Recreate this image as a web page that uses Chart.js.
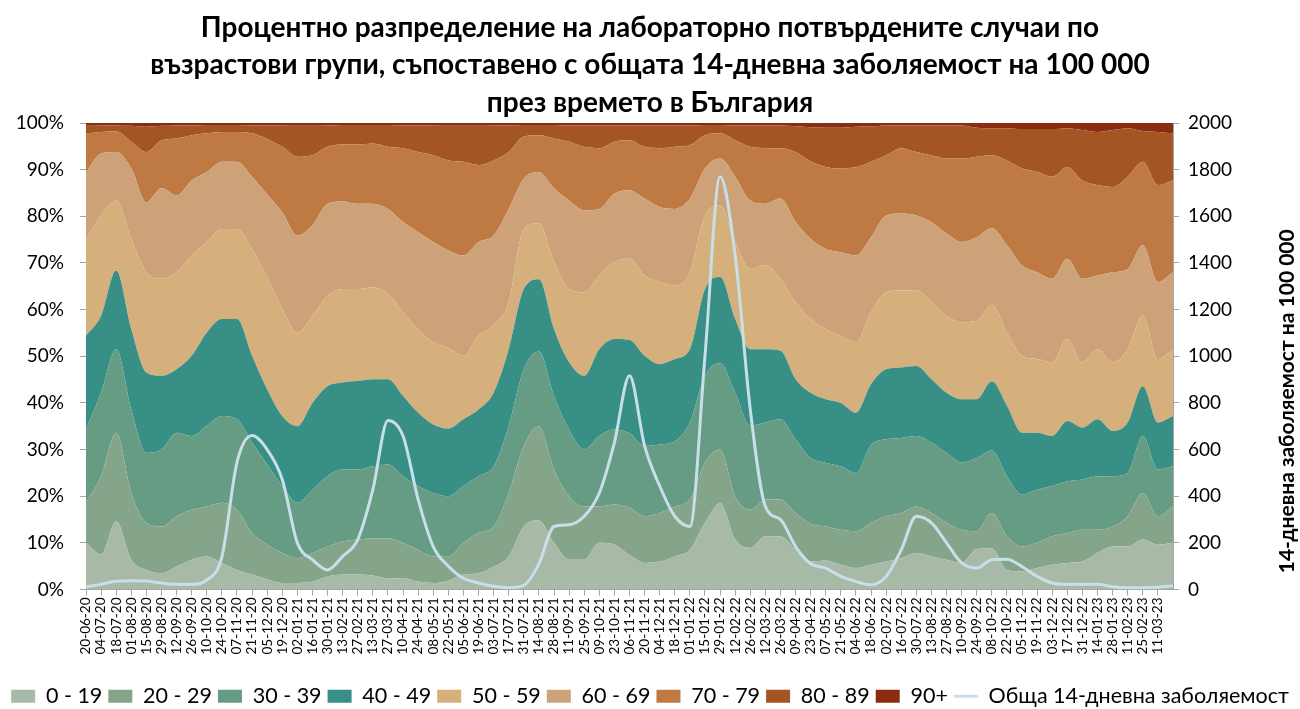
<!DOCTYPE html>
<html>
<head>
<meta charset="utf-8">
<script src="https://cdn.jsdelivr.net/npm/chart.js@4.4.1/dist/chart.umd.min.js"></script>
<style>
  html, body { margin: 0; padding: 0; background: #ffffff; }
</style>
</head>
<body>
<canvas id="chart" width="1300" height="709"></canvas>
<script>
// Upper edge of each age band (cumulative %), read every 14 days from 20-06-20
const groups = ['0 - 19', '20 - 29', '30 - 39', '40 - 49', '50 - 59', '60 - 69', '70 - 79', '80 - 89', '90+'];
const colors = ['#a9b9a7', '#85a58b', '#679c84', '#378f86', '#d5b07c', '#cea278', '#bf7a44', '#a35624', '#8a2c12'];

const edge0_19 = [10, 7.5, 14.6, 6.4, 4.2, 3.5, 4.9, 6.4, 7.1, 5.7, 4.2, 3.2, 2.2, 1.4, 1.4, 1.7, 2.8, 3.2, 3.2, 3, 2.4, 2.4, 1.7, 1.4, 1.9, 3.2, 3.5, 4.9, 7.1, 13.5, 14.8, 10, 6.4, 6.4, 10, 9.6, 7.4, 5.7, 6, 7.1, 8.5, 14.3, 18.5, 10.7, 8.9, 11.4, 11.4, 8.5, 6, 6.2, 5.3, 4.6, 5.3, 6, 6.7, 7.8, 7.1, 6.4, 5.7, 8.7, 8.8, 4.2, 3.9, 4.6, 5.3, 5.7, 6, 7.8, 9.2, 9.2, 10.7, 9.6, 10];
const edge20_29 = [18.6, 24.3, 33.6, 20.7, 14.3, 13.5, 15.7, 17.1, 17.8, 18.6, 17.1, 12.1, 9.6, 7.8, 6.7, 7.8, 9.2, 10.3, 10.7, 11, 11, 10, 8.5, 7.1, 7, 10, 12.1, 13.5, 20.7, 30.8, 35, 25.7, 20, 17.8, 17.8, 18.2, 17.5, 15.7, 16.4, 17.8, 19.3, 27.2, 30, 20, 17.1, 19.3, 19.3, 16.4, 14.1, 13.5, 12.8, 12.5, 14.3, 15.7, 16.4, 17.8, 16.4, 14.3, 12.8, 12.5, 16.4, 11.4, 9.2, 10, 11.4, 12.1, 12.8, 12.8, 13.5, 15.7, 20.7, 15.7, 17.8];
const edge30_39 = [34.3, 42.2, 51.5, 38.6, 29.3, 30, 33.6, 32.9, 35.1, 37.2, 36.5, 31.5, 26.8, 22.2, 18.6, 21.4, 24.3, 25.7, 25.7, 26.4, 26.8, 24.3, 22.2, 20.7, 20, 22.2, 24.3, 26.4, 35, 47.2, 51, 41.5, 34.3, 30, 32.9, 34.3, 33.5, 30.8, 31.1, 31.8, 35.8, 45.8, 48.5, 42.2, 35.1, 35.8, 36.5, 32.2, 28.2, 27.2, 26.4, 25, 31, 32.2, 32.5, 32.9, 31.5, 29.3, 27.2, 28.2, 29.8, 24.3, 20.4, 21.4, 22.2, 23.2, 23.6, 24.3, 24.3, 25, 32.9, 25.7, 26.4];
const edge40_49 = [54.4, 58.7, 68.4, 55.8, 46.5, 45.8, 47.2, 50.1, 55.1, 58, 58, 50.1, 42.9, 37.2, 35, 40, 43.6, 44.4, 44.7, 45.1, 45.1, 41.5, 37.9, 35.4, 34.5, 36.5, 38.6, 42.2, 51.5, 64.4, 66.5, 55.8, 48.7, 45.8, 51.5, 53.7, 53.5, 50.1, 48.3, 49.4, 51.5, 64.4, 67, 58, 51.5, 51.5, 51.2, 45.1, 42.2, 40.8, 40, 37.9, 44, 47.2, 47.6, 47.9, 45.1, 42.2, 40.8, 40.8, 44.6, 39.4, 33.6, 33.6, 32.9, 36.1, 34.7, 36.5, 34, 35.8, 43.6, 35.8, 37.2];
const edge50_59 = [75.2, 80.2, 83.4, 75.2, 68, 66.6, 68, 71.6, 74.5, 77.3, 77.3, 73, 67, 60.1, 55.1, 58.7, 63, 64.4, 64.4, 64.8, 63.4, 59.4, 55.8, 53, 51.8, 50.1, 54.4, 56.6, 61.6, 77.3, 78.5, 70.2, 64.4, 63.7, 67.3, 70.2, 70.9, 67.3, 65.9, 65.2, 68, 80.2, 82.4, 74.5, 68.7, 69.5, 66.6, 61.6, 58, 55.8, 54.4, 53, 59.5, 63.7, 64.1, 64.1, 61.6, 58.7, 57.3, 57.6, 61, 55.1, 50.1, 49.4, 48.7, 53.7, 48.7, 51.5, 48.7, 51.5, 58.7, 49.4, 51.5];
const edge60_69 = [89.5, 93.5, 93.8, 90.3, 83, 86, 84.5, 87.7, 89.5, 91.7, 91.7, 88.5, 84.7, 80.9, 75.9, 78.1, 82.7, 83.2, 82.7, 82.7, 81.6, 78.8, 76.6, 74.5, 72.7, 71.6, 74.5, 75.9, 81.6, 88.1, 89.5, 86, 83.4, 81.3, 81.6, 84.9, 85.6, 83.8, 82, 81.6, 83.8, 90.3, 92.4, 88.5, 83.4, 82.7, 83.8, 78.8, 75.2, 73, 72.3, 71.6, 75.5, 80.2, 80.6, 80.2, 78.8, 76.3, 74.5, 75.5, 77.5, 73.8, 69.5, 68, 66.6, 70.9, 66.6, 67.3, 68, 68.7, 73.8, 65.9, 68];
const edge70_79 = [97.8, 98.1, 98.2, 96, 93.8, 96.3, 96.7, 97.4, 97.8, 98.1, 98.1, 97.8, 96.6, 94.9, 92.8, 93.1, 94.9, 95.4, 95.4, 95.6, 94.9, 94.6, 93.8, 93.1, 92, 91.7, 91, 92, 93.8, 97.1, 97.4, 96.7, 96, 94.9, 94.6, 96, 96.3, 94.9, 94.6, 94.9, 95.3, 97.4, 97.8, 96.3, 94.9, 94.6, 94.6, 93.8, 91.8, 90.6, 90.3, 90.5, 91.7, 93.1, 94.6, 93.8, 93.1, 92.4, 92.4, 92.8, 93.1, 92, 90.3, 89.5, 88.5, 90.6, 87.7, 86.7, 86.3, 88.5, 91.7, 86.7, 87.7];
const edge80_89 = [99.4, 99.5, 99.5, 99.4, 99.2, 99.4, 99.5, 99.5, 99.6, 99.6, 99.6, 99.5, 99.5, 99.5, 99.4, 99.4, 99.5, 99.6, 99.6, 99.6, 99.6, 99.5, 99.5, 99.5, 99.4, 99.4, 99.4, 99.5, 99.5, 99.6, 99.6, 99.6, 99.5, 99.5, 99.5, 99.5, 99.5, 99.5, 99.5, 99.5, 99.5, 99.6, 99.6, 99.5, 99.5, 99.5, 99.5, 99.3, 99.1, 99, 99, 99.2, 99.3, 99.5, 99.5, 99.5, 99.5, 99.5, 99.5, 99, 98.9, 98.9, 98.7, 98.7, 98.7, 98.9, 98.5, 98.1, 98.5, 98.9, 98.3, 98.1, 97.8];

// Total 14-day incidence per 100 000
const incidence = [12, 22, 35, 38, 36, 28, 22, 22, 40, 140, 545, 660, 600, 472, 200, 128, 84, 142, 214, 428, 725, 658, 386, 184, 100, 48, 28, 14, 8, 18, 110, 270, 278, 314, 414, 630, 916, 616, 444, 314, 270, 1002, 1770, 1432, 772, 356, 300, 184, 110, 92, 56, 34, 20, 56, 170, 314, 286, 200, 114, 92, 128, 130, 98, 56, 28, 22, 22, 22, 12, 8, 8, 10, 16];

const lineLabel = 'Обща 14-дневна заболяемост';
const rightAxisTitle = '14-дневна заболяемост на 100 000';
const titleLines = [
  'Процентно разпределение на лабораторно потвърдените случаи по',
  'възрастови групи, съпоставено с общата 14-дневна заболяемост на 100 000',
  'през времето в България'
];

// dates every 14 days, dd-mm-yy
const dates = [];
for (let i = 0; i < incidence.length; i++) {
  const d = new Date(Date.UTC(2020, 5, 20 + 14 * i));
  const dd = String(d.getUTCDate()).padStart(2, '0');
  const mm = String(d.getUTCMonth() + 1).padStart(2, '0');
  const yy = String(d.getUTCFullYear()).slice(2);
  dates.push(dd + '-' + mm + '-' + yy);
}

const edges = [edge0_19, edge20_29, edge30_39, edge40_49, edge50_59, edge60_69, edge70_79, edge80_89];

const datasets = groups.map(function (g, k) {
  const last = k === groups.length - 1;
  return {
    label: g,
    data: last ? edge80_89 : edges[k],
    yAxisID: 'y',
    backgroundColor: colors[k],
    borderWidth: 0,
    pointRadius: 0,
    fill: k === 0 ? 'origin' : (last ? 'end' : '-1'),
    cubicInterpolationMode: 'monotone'
  };
});
datasets.push({
  label: lineLabel,
  data: incidence,
  yAxisID: 'y2',
  borderColor: '#c8dfe9',
  backgroundColor: '#c8dfe9',
  borderWidth: 3,
  pointRadius: 0,
  fill: false,
  cubicInterpolationMode: 'monotone'
});

const rightTitle = {
  id: 'rightTitle',
  afterDraw(chart) {
    const ctx = chart.ctx;
    const a = chart.chartArea;
    ctx.save();
    ctx.translate(chart.width - 13, (a.top + a.bottom) / 2 + 45);
    ctx.rotate(-Math.PI / 2);
    ctx.font = 'bold 21px Lato';
    ctx.fillStyle = '#000000';
    ctx.textAlign = 'center';
    ctx.textBaseline = 'middle';
    ctx.fillText(rightAxisTitle, 0, 0);
    ctx.restore();
  }
};

const axisGray = '#a6a6a6';

new Chart(document.getElementById('chart'), {
  type: 'line',
  data: { labels: dates, datasets: datasets },
  plugins: [rightTitle],
  options: {
    responsive: false,
    animation: false,
    layout: { padding: { left: 0, right: 0, top: 0, bottom: -8 } },
    plugins: {
      filler: { drawTime: 'beforeDatasetsDraw' },
      tooltip: { enabled: false },
      title: {
        display: true,
        text: titleLines,
        color: '#000000',
        font: { family: 'Lato', size: 28, weight: 'bold', lineHeight: 1.34 },
        padding: { top: 9, bottom: 1.5 }
      },
      legend: {
        position: 'bottom',
        labels: {
          color: '#000000',
          font: { family: 'Lato', size: 21.5 },
          usePointStyle: true,
          pointStyleWidth: 24,
          boxHeight: 13,
          padding: 6,
          generateLabels(chart) {
            return chart.data.datasets.map(function (ds, i) {
              const isLine = i === chart.data.datasets.length - 1;
              return {
                text: ds.label,
                fillStyle: isLine ? ds.borderColor : ds.backgroundColor,
                strokeStyle: isLine ? ds.borderColor : ds.backgroundColor,
                lineWidth: isLine ? 3 : 0,
                pointStyle: isLine ? 'line' : 'rect',
                fontColor: '#000000',
                datasetIndex: i
              };
            });
          }
        }
      }
    },
    scales: {
      x: {
        type: 'category',
        offset: false,
        afterFit: function (scale) { scale.height = 90; },
        grid: { display: true, drawOnChartArea: false, tickLength: 6, color: axisGray },
        border: { color: axisGray },
        ticks: {
          autoSkip: false,
          maxRotation: 90,
          minRotation: 90,
          color: '#000000',
          font: { family: 'Lato', size: 13.5 },
          padding: 2,
          callback: function (v, i) { return i < dates.length - 1 ? dates[i] : null; }
        }
      },
      y: {
        position: 'left',
        min: 0,
        max: 100,
        afterFit: function (scale) { scale.width = 86; },
        grid: { display: true, drawOnChartArea: false, tickLength: 6, color: axisGray },
        border: { color: axisGray },
        ticks: {
          stepSize: 10,
          color: '#000000',
          font: { family: 'Lato', size: 19 },
          padding: 16,
          callback: function (v) { return v + '%'; }
        }
      },
      y2: {
        position: 'right',
        min: 0,
        max: 2000,
        afterFit: function (scale) { scale.width = 127; },
        grid: { display: true, drawOnChartArea: false, tickLength: 6, color: axisGray },
        border: { color: axisGray },
        ticks: {
          stepSize: 200,
          color: '#000000',
          font: { family: 'Lato', size: 19 },
          padding: 9,
          callback: function (v) { return String(v); }
        }
      }
    }
  }
});
</script>
</body>
</html>
